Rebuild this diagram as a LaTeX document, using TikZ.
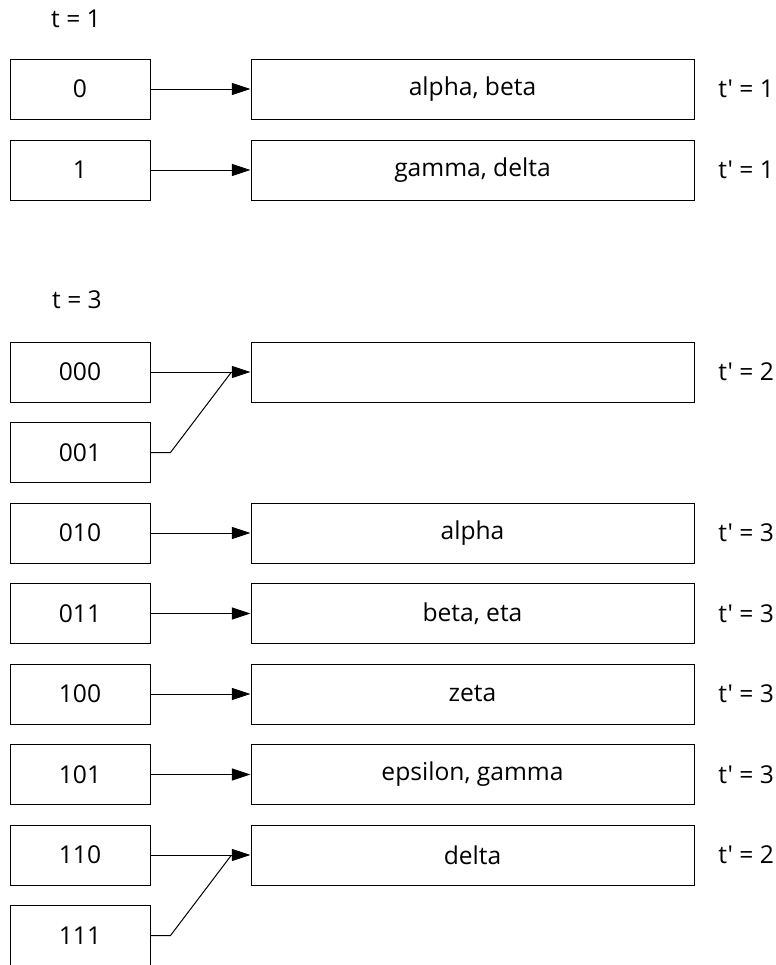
\documentclass[tikz,border=0pt]{standalone}
\usepackage{fontspec}
\setmainfont{Open Sans}[Ligatures=TeXOff]
\usetikzlibrary{arrows.meta,calc}
\begin{document}
\begin{tikzpicture}[x=0.5pt,y=-0.5pt,
  txt/.style={font=\fontsize{12.3}{14}\selectfont},
  key/.style={txt, draw, line width=0.5pt, minimum width=70pt, minimum height=30pt, inner sep=0pt},
  bucket/.style={txt, draw, line width=0.5pt, minimum width=221.5pt, minimum height=30pt, inner sep=0pt},
  lbl/.style={txt, anchor=west, inner sep=0pt},
  ptr/.style={line width=0.5pt, -{Triangle[length=9.3pt,width=6pt]}},
  joinline/.style={line width=0.5pt}]
\clip (0,0) rectangle (776,965);

% global depth t = 1
\node[txt] (t1) at (76,19) {t = 1};
\node[key] (k0) at (80,89) {0};
\node[key] (k1) at (80,170) {1};
\node[bucket] (r0) at (472.5,89) {alpha, beta};
\node[bucket] (r1) at (472.5,170) {gamma, delta};
\node[lbl] (l0) at (718,89) {t' = 1};
\node[lbl] (l1) at (718,170) {t' = 1};
\draw[ptr] (k0.east) -- (r0.west);
\draw[ptr] (k1.east) -- (r1.west);

% global depth t = 3
\node[txt] (t3) at (77,300) {t = 3};
\node[key] (k000) at (80,372) {000};
\node[key] (k001) at (80,452.5) {001};
\node[key] (k010) at (80,533) {010};
\node[key] (k011) at (80,613.5) {011};
\node[key] (k100) at (80,694) {100};
\node[key] (k101) at (80,774.5) {101};
\node[key] (k110) at (80,855) {110};
\node[key] (k111) at (80,935.5) {111};

\node[bucket] (r000) at (472.5,372) {};
\node[bucket] (r010) at (472.5,533) {alpha};
\node[bucket] (r011) at (472.5,613.5) {beta, eta};
\node[bucket] (r100) at (472.5,694) {zeta};
\node[bucket] (r101) at (472.5,774.5) {epsilon, gamma};
\node[bucket] (r110) at (472.5,855) {delta};

\node[lbl] (l000) at (718,372) {t' = 2};
\node[lbl] (l010) at (718,533) {t' = 3};
\node[lbl] (l011) at (718,613.5) {t' = 3};
\node[lbl] (l100) at (718,694) {t' = 3};
\node[lbl] (l101) at (718,774.5) {t' = 3};
\node[lbl] (l110) at (718,855) {t' = 2};

\draw[ptr] (k000.east) -- (r000.west);
\draw[joinline] (k001.east) -- ++(20,0) -- ($(r000.west)+(-19,0)$);
\draw[ptr] (k010.east) -- (r010.west);
\draw[ptr] (k011.east) -- (r011.west);
\draw[ptr] (k100.east) -- (r100.west);
\draw[ptr] (k101.east) -- (r101.west);
\draw[ptr] (k110.east) -- (r110.west);
\draw[joinline] (k111.east) -- ++(20,0) -- ($(r110.west)+(-19,0)$);
\end{tikzpicture}
\end{document}
